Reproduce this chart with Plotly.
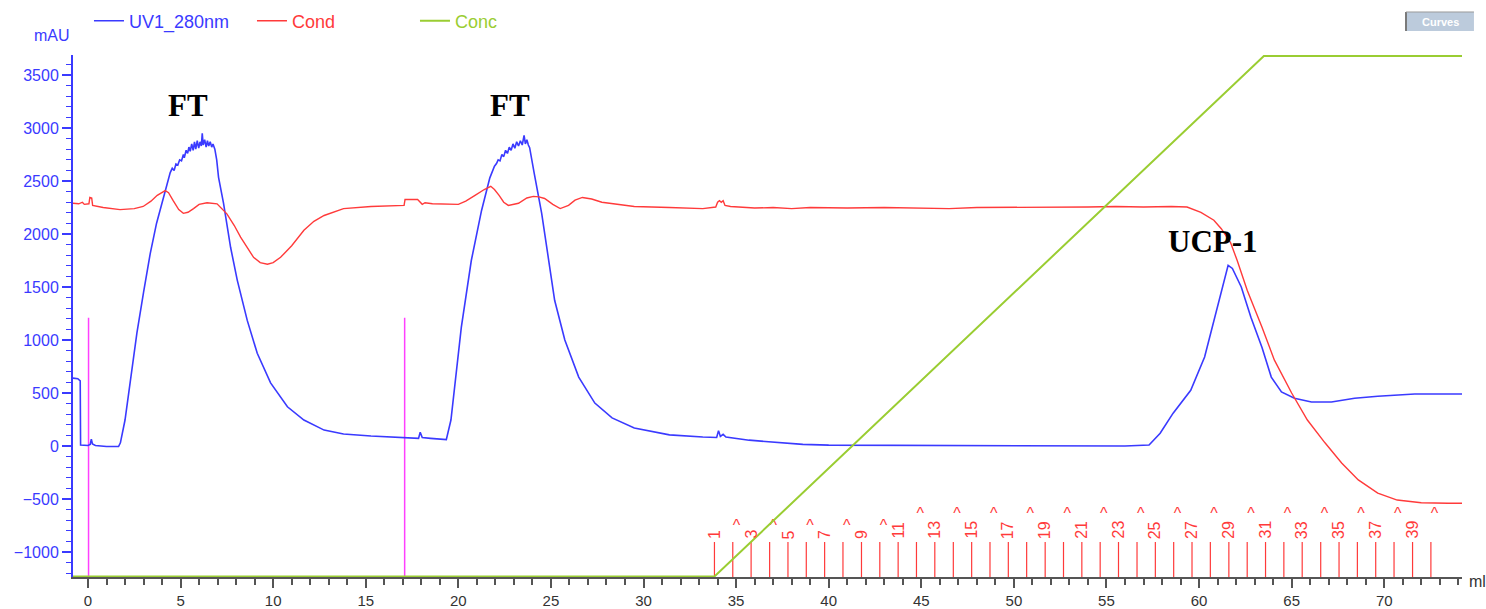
import plotly.graph_objects as go

# ---------------- data ----------------
uv_ml = [-0.81, -0.55, -0.42, -0.40, 0.0, 0.12, 0.18, 0.24, 0.4, 1.0, 1.65, 1.75, 2.0, 2.3, 2.64, 3.0, 3.36, 3.7,
         4.08, 4.3, 4.44, 4.55, 4.65, 4.75, 4.85, 4.95, 5.05, 5.15, 5.2, 5.3, 5.38, 5.45, 5.52, 5.6, 5.68, 5.75,
         5.82, 5.9, 5.98, 6.05, 6.12, 6.17, 6.22, 6.3, 6.38, 6.45, 6.52, 6.6, 6.68, 6.75, 6.85, 6.95, 7.05, 7.32,
         7.7, 8.06, 8.6, 9.14, 9.86, 10.77, 11.66, 12.75, 13.8, 15.28, 17.07, 17.85, 17.94, 18.05, 18.5, 19.35,
         19.6, 20.16, 20.7, 21.25, 21.7, 21.85, 21.95, 22.06, 22.15, 22.25, 22.35, 22.45, 22.55, 22.65, 22.75,
         22.85, 22.95, 23.05, 23.15, 23.25, 23.35, 23.45, 23.55, 23.62, 23.7, 23.78, 23.85, 24.1, 24.5, 24.88,
         25.2, 25.75, 26.5, 27.37, 28.3, 29.5, 31.4, 33.2, 33.95, 34.05, 34.15, 34.3, 34.45, 35.7, 37.5, 38.6,
         40.0, 45.0, 50.0, 54.85, 56.0, 57.3, 57.9, 58.6, 59.55, 60.3, 60.8, 61.25, 61.57, 61.8, 62.28, 62.8,
         63.4, 63.9, 64.45, 65.15, 66.07, 67.15, 68.4, 69.65, 71.65, 73.55, 74.3]
uv_mau = [640, 635, 615, 10, 5, 15, 65, 20, 5, -5, -5, 30, 245, 640, 1065, 1450, 1815, 2100,
          2345, 2500, 2580, 2620, 2600, 2660, 2650, 2700, 2690, 2750, 2720, 2790, 2760, 2820, 2780, 2850, 2790, 2870,
          2800, 2880, 2810, 2870, 2830, 2950, 2840, 2890, 2820, 2880, 2830, 2870, 2820, 2850, 2800, 2700, 2535, 2290,
          1875, 1565, 1185, 875, 595, 370, 245, 150, 113, 94, 75, 72, 130, 80, 72, 60,
          245, 1120, 1750, 2220, 2530, 2600, 2640, 2665, 2700, 2690, 2750, 2730, 2790, 2760, 2820,
          2790, 2850, 2810, 2870, 2830, 2880, 2840, 2930, 2850, 2890, 2840, 2815, 2570, 2195, 1750,
          1375, 1000, 650, 405, 265, 170, 105, 85, 80, 145, 90, 110, 85, 55, 30, 15,
          8, 5, 5, 5, 0, 10, 120, 310, 525, 840, 1185, 1500, 1705, 1675, 1500, 1215,
          930, 650, 510, 450, 415, 415, 450, 470, 490, 490, 490]

cond_ml = [-0.81, -0.5, -0.3, -0.2, 0.05, 0.1, 0.2, 0.25, 0.82, 1.73, 2.5, 2.98, 3.4, 3.74, 4.17, 4.35, 4.6, 4.9,
           5.15, 5.4, 5.7, 6.0, 6.43, 6.97, 7.5, 7.9, 8.24, 8.6, 8.94, 9.3, 9.69, 10.0, 10.4, 11.0, 11.66, 12.2,
           12.75, 13.8, 15.28, 17.07, 17.12, 17.8, 17.95, 18.05, 18.2, 18.6, 20.0, 20.4, 20.9, 21.4, 21.75, 21.95,
           22.2, 22.45, 22.7, 23.25, 23.7, 24.05, 24.35, 24.66, 25.1, 25.5, 25.95, 26.3, 26.7, 27.2, 27.75, 28.5,
           29.5, 31.4, 33.2, 33.9, 34.0, 34.1, 34.2, 34.3, 34.4, 34.7, 36.0, 37.0, 38.0, 39.0, 41.0, 43.0, 45.0,
           46.5, 48.0, 50.0, 52.0, 54.0, 55.5, 57.0, 58.5, 59.35, 60.1, 60.8, 61.2, 61.7, 62.06, 62.6, 63.4,
           64.07, 65.0, 65.85, 66.8, 67.7, 68.6, 69.65, 70.7, 72.0, 73.45, 74.3]
cond_val = [2290, 2285, 2300, 2280, 2285, 2345, 2340, 2270, 2250, 2230, 2240, 2260, 2310, 2365, 2410, 2390, 2315, 2230,
            2195, 2205, 2240, 2280, 2295, 2285, 2190, 2080, 1970, 1870, 1780, 1730, 1715, 1730, 1780, 1890, 2035, 2120,
            2175, 2240, 2260, 2270, 2325, 2325, 2295, 2280, 2295, 2285, 2280, 2310, 2365, 2420, 2450, 2420,
            2365, 2300, 2270, 2290, 2340, 2355, 2350, 2335, 2280, 2240, 2270, 2320, 2345, 2330, 2300, 2280,
            2260, 2250, 2240, 2255, 2300, 2315, 2300, 2315, 2270, 2260, 2245, 2250, 2240, 2250, 2245, 2250, 2245,
            2240, 2250, 2250, 2255, 2255, 2260, 2255, 2260, 2255, 2205, 2130, 2050, 1920, 1750, 1470, 1120,
            810, 500, 245, 30, -160, -320, -445, -510, -535, -540, -540]

conc_ml = [-0.81, 33.83, 63.5, 74.3]
conc_pct = [0, 0, 100, 100]

fraction_ml = [33.83, 34.82, 35.81, 36.81, 37.80, 38.79, 39.78, 40.77, 41.77, 42.76,
               43.75, 44.74, 45.73, 46.73, 47.72, 48.71, 49.70, 50.69, 51.69, 52.68,
               53.67, 54.66, 55.65, 56.65, 57.64, 58.63, 59.62, 60.61, 61.61, 62.60,
               63.59, 64.58, 65.57, 66.57, 67.56, 68.55, 69.54, 70.53, 71.53, 72.52]
fraction_labels = [str(i) for i in range(1, 41)]

inject_ml = [0.03, 17.1]

x_ticks = list(range(0, 75, 5))
y_ticks = list(range(-1000, 4000, 500))

peak_labels = ["FT", "FT", "UCP-1"]
peak_ml = [5.38, 22.78, 60.73]
peak_mau = [3210, 3210, 1930]

# ---------------- styles ----------------
BLUE = "#3a3aff"
RED = "#ff3a3a"
GREEN = "#9acd32"
MAGENTA = "#ff40ff"
AX_GRAY = "#555555"
Y_RANGE = [-1236, 3689]
X_RANGE = [-0.81, 74.2]
FRAC_TOP = -906
INJ_TOP = 1210
FONT = "Liberation Sans"

fig = go.Figure()

# fraction marks
fx, fy = [], []
for f in fraction_ml:
    fx += [f, f, None]
    fy += [Y_RANGE[0], FRAC_TOP, None]
fig.add_trace(go.Scatter(x=fx, y=fy, mode="lines", line=dict(color=RED, width=1.2),
                         showlegend=False, hoverinfo="skip"))

# ^ marks on even fractions
cx = [f + 0.2 for i, f in enumerate(fraction_ml) if (i + 1) % 2 == 0]
cy = [-760 if (i + 1) <= 10 else -650 for i, f in enumerate(fraction_ml) if (i + 1) % 2 == 0]
fig.add_trace(go.Scatter(x=cx, y=cy, mode="text", text=["^"] * len(cx),
                         textfont=dict(family=FONT, size=16, color=RED),
                         showlegend=False, hoverinfo="skip"))

# injection marks
ix, iy = [], []
for v in inject_ml:
    ix += [v, v, None]
    iy += [Y_RANGE[0], INJ_TOP, None]
fig.add_trace(go.Scatter(x=ix, y=iy, mode="lines", line=dict(color=MAGENTA, width=1.5),
                         showlegend=False, hoverinfo="skip"))

fig.add_trace(go.Scatter(x=uv_ml, y=uv_mau, mode="lines", line=dict(color=BLUE, width=1.6),
                         name=f"<span style='color:{BLUE}'>UV1_280nm</span>"))
fig.add_trace(go.Scatter(x=cond_ml, y=cond_val, mode="lines", line=dict(color=RED, width=1.4),
                         name=f"<span style='color:{RED}'>Cond</span>"))
fig.add_trace(go.Scatter(x=conc_ml, y=conc_pct, mode="lines", line=dict(color=GREEN, width=2),
                         name=f"<span style='color:{GREEN}'>Conc</span>", yaxis="y2"))

annotations = []
for lab, f in zip(fraction_labels, fraction_ml):
    if int(lab) % 2 == 1:
        annotations.append(dict(x=f, y=FRAC_TOP + 10, xref="x", yref="y", text=lab, showarrow=False,
                                textangle=-90, xanchor="center", yanchor="bottom",
                                font=dict(family=FONT, size=16, color=RED)))
for lab, px_, py_ in zip(peak_labels, peak_ml, peak_mau):
    annotations.append(dict(x=px_, y=py_, xref="x", yref="y", text=f"<b>{lab}</b>", showarrow=False,
                            xanchor="center", yanchor="middle",
                            font=dict(family="Liberation Serif", size=31, color="black")))
annotations.append(dict(x=-0.0151, y=1.0364, xref="paper", yref="paper", text="mAU", showarrow=False,
                        xanchor="center", yanchor="middle", font=dict(family=FONT, size=16, color=BLUE)))
annotations.append(dict(x=1.0, y=0, xref="paper", yref="paper", text="ml", showarrow=False,
                        xanchor="left", yanchor="middle", xshift=5, yshift=-4,
                        font=dict(family=FONT, size=16, color="#333333")))
annotations.append(dict(x=0.9842, y=1.064, xref="paper", yref="paper", text="<b>Curves</b>", showarrow=False,
                        xanchor="center", yanchor="middle", font=dict(family=FONT, size=11, color="white")))

shapes = [
    dict(type="rect", xref="paper", yref="paper", x0=0.9597, x1=1.0086, y0=1.046, y1=1.0824,
         fillcolor="#bccbdc", line=dict(width=0)),
    dict(type="line", xref="paper", yref="paper", x0=0.9597, x1=0.9597, y0=1.046, y1=1.0824,
         line=dict(color="#7a7a7a", width=2)),
    dict(type="line", xref="paper", yref="paper", x0=0.9597, x1=1.0086, y0=1.0824, y1=1.0824,
         line=dict(color="#9a9a9a", width=1)),
]

fig.update_layout(
    width=1486, height=609,
    margin=dict(l=73, r=24, t=55, b=32, autoexpand=False),
    paper_bgcolor="white", plot_bgcolor="white",
    font=dict(family=FONT, size=16),
    showlegend=True,
    legend=dict(orientation="h", x=0.0115, y=1.065, xanchor="left", yanchor="middle",
                entrywidth=118, entrywidthmode="pixels", font=dict(family=FONT, size=18),
                bgcolor="rgba(0,0,0,0)", itemclick=False),
    xaxis=dict(range=X_RANGE, tickvals=x_ticks, ticks="outside", ticklen=9, tickwidth=1.5,
               tickcolor=AX_GRAY, showline=True, linecolor=AX_GRAY, linewidth=2, showgrid=False,
               zeroline=False, tickfont=dict(family=FONT, size=15, color="#333333"),
               ticklabelstandoff=0,
               minor=dict(dtick=1, tick0=0, ticks="outside", ticklen=6, tickcolor=AX_GRAY, tickwidth=1.5)),
    yaxis=dict(range=Y_RANGE, tickvals=y_ticks, ticks="outside", ticklen=9, tickwidth=1.5,
               tickcolor=BLUE, showline=True, linecolor=BLUE, linewidth=2, showgrid=False,
               zeroline=False, tickfont=dict(family=FONT, size=16, color=BLUE),
               minor=dict(dtick=100, tick0=0, ticks="outside", ticklen=5, tickcolor=BLUE, tickwidth=1.2)),
    yaxis2=dict(range=[-0.1, 100.2], overlaying="y", visible=False),
    annotations=annotations,
    shapes=shapes,
)

fig.write_html("out.html")
